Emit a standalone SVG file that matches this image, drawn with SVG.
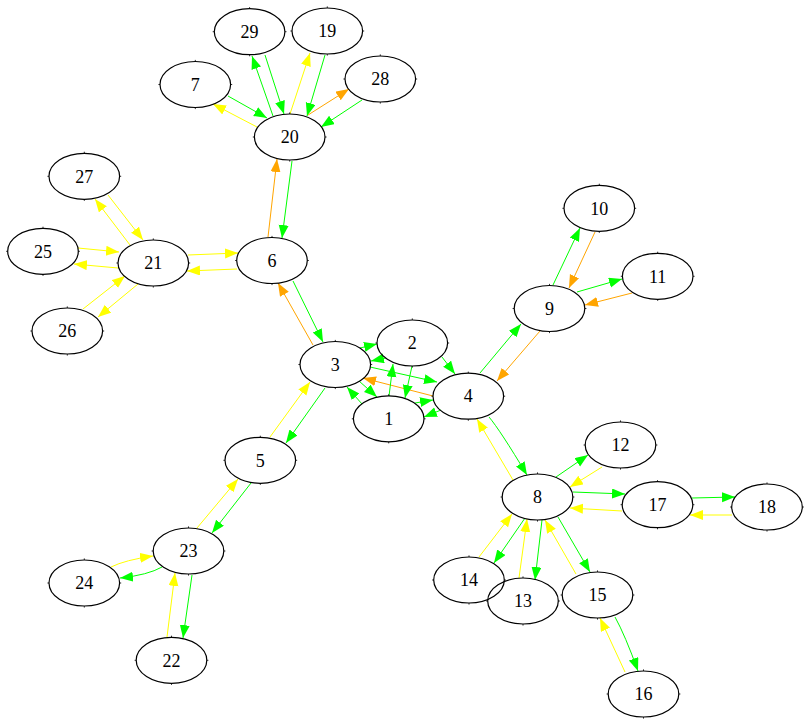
<svg xmlns="http://www.w3.org/2000/svg" xmlns:xlink="http://www.w3.org/1999/xlink" width="809" height="724" viewBox="0 0 809 724">
<style>
.e{fill:none;stroke-width:1}
.g{stroke:#00ff00;marker-end:url(#ag)}
.y{stroke:#ffff00;marker-end:url(#ay)}
.o{stroke:#ffa500;marker-end:url(#ao)}
.n text{font-family:"Liberation Serif","Times New Roman",serif;font-size:18px;text-anchor:middle;fill:#000}
</style>
<defs>
<marker id="ag" markerUnits="userSpaceOnUse" markerWidth="14" markerHeight="11" refX="13" refY="5" orient="auto"><path d="M0,0L13,5L0,10z" fill="#00ff00"/></marker>
<marker id="ay" markerUnits="userSpaceOnUse" markerWidth="14" markerHeight="11" refX="13" refY="5" orient="auto"><path d="M0,0L13,5L0,10z" fill="#ffff00"/></marker>
<marker id="ao" markerUnits="userSpaceOnUse" markerWidth="14" markerHeight="11" refX="13" refY="5" orient="auto"><path d="M0,0L13,5L0,10z" fill="#ffa500"/></marker>
<g id="shape" fill="none" stroke="#000"><ellipse cx="0" cy="0" rx="35.3" ry="23" stroke-width="1.2"/><path stroke-width="0.8" d="M0,-24.6V-23M0,23V24.6M-36.9,0H-35.3M35.3,0H36.9"/></g>
</defs>
<rect width="809" height="724" fill="#fff"/>
<g id="edges" class="e">
<path class="g" d="M273,116L252,56"/>
<path class="g" d="M265,55L284,114"/>
<path class="y" d="M290,114L310,53"/>
<path class="g" d="M325,55L307,116"/>
<path class="y" d="M257,127L213,104"/>
<path class="g" d="M228,96L267,118"/>
<path class="o" d="M308,115L349,89"/>
<path class="g" d="M362,100L321,127"/>
<path class="o" d="M268,237L277,159"/>
<path class="g" d="M292,161L282,238"/>
<path class="y" d="M188,255L238,253"/>
<path class="y" d="M237,269L187,271"/>
<path class="y" d="M130,245L95,199"/>
<path class="y" d="M108,195L143,240"/>
<path class="y" d="M78,248L119,252"/>
<path class="y" d="M118,268L74,264"/>
<path class="y" d="M83,309L125,276"/>
<path class="y" d="M138,284L98,317"/>
<path class="o" d="M313,345L278,283"/>
<path class="g" d="M293,281L323,342"/>
<path class="y" d="M270,437L310,382"/>
<path class="g" d="M325,388L286,443"/>
<path class="y" d="M197,528L238,479"/>
<path class="g" d="M251,483L212,533"/>
<path class="y" d="M111,567Q125,560 153,556"/>
<path class="g" d="M162,567Q148,575 120,578"/>
<path class="y" d="M167,637L175,573"/>
<path class="g" d="M192,575L183,638"/>
<path class="g" d="M360,348L377,344"/>
<path class="g" d="M386,358L371,361"/>
<path class="g" d="M370,367L437,382"/>
<path class="o" d="M433,396L363,378"/>
<path class="g" d="M442,357L455,374"/>
<path class="g" d="M389,396L393,364"/>
<path class="g" d="M412,366L405,398"/>
<path class="g" d="M359,381L377,397"/>
<path class="g" d="M362,404L347,387"/>
<path class="g" d="M415,403L433,400"/>
<path class="g" d="M441,410L424,417"/>
<path class="g" d="M480,373L521,324"/>
<path class="o" d="M540,331L497,381"/>
<path class="g" d="M553,285L580,228"/>
<path class="o" d="M595,232L569,288"/>
<path class="g" d="M577,292L622,279"/>
<path class="o" d="M632,293L585,305"/>
<path class="g" d="M489,417Q500,430 527,475"/>
<path class="y" d="M513,480L477,419"/>
<path class="g" d="M556,477L588,455"/>
<path class="y" d="M602,467L570,487"/>
<path class="g" d="M573,492L625,494"/>
<path class="y" d="M622,511L570,508"/>
<path class="g" d="M692,498L735,497"/>
<path class="y" d="M732,515L690,515"/>
<path class="g" d="M525,518L494,563"/>
<path class="y" d="M479,557L512,514"/>
<path class="g" d="M542,520L535,580"/>
<path class="y" d="M519,578L527,519"/>
<path class="g" d="M558,517L590,572"/>
<path class="y" d="M576,574L545,520"/>
<path class="g" d="M615,617Q625,635 638,671"/>
<path class="y" d="M625,672L600,618"/>
</g>
<g id="n1" class="n"><use xlink:href="#shape" x="388.7" y="418.8"/><text x="388.7" y="425">1</text></g>
<g id="n2" class="n"><use xlink:href="#shape" x="412.3" y="343"/><text x="412.3" y="349.2">2</text></g>
<g id="n3" class="n"><use xlink:href="#shape" x="335.3" y="364.5"/><text x="335.3" y="370.7">3</text></g>
<g id="n4" class="n"><use xlink:href="#shape" x="468.3" y="396.2"/><text x="468.3" y="402.4">4</text></g>
<g id="n5" class="n"><use xlink:href="#shape" x="260.3" y="460.3"/><text x="260.3" y="466.5">5</text></g>
<g id="n6" class="n"><use xlink:href="#shape" x="272" y="260.5"/><text x="272" y="266.7">6</text></g>
<g id="n7" class="n"><use xlink:href="#shape" x="195.3" y="84.5"/><text x="195.3" y="90.7">7</text></g>
<g id="n8" class="n"><use xlink:href="#shape" x="537.5" y="497"/><text x="537.5" y="503.2">8</text></g>
<g id="n9" class="n"><use xlink:href="#shape" x="549.5" y="308.5"/><text x="549.5" y="314.7">9</text></g>
<g id="n10" class="n"><use xlink:href="#shape" x="599.3" y="208.3"/><text x="599.3" y="214.5">10</text></g>
<g id="n11" class="n"><use xlink:href="#shape" x="657.7" y="276.3"/><text x="657.7" y="282.5">11</text></g>
<g id="n12" class="n"><use xlink:href="#shape" x="620.5" y="445"/><text x="620.5" y="451.2">12</text></g>
<g id="n14" class="n"><use xlink:href="#shape" x="469" y="580"/><text x="469" y="586.2">14</text></g>
<g id="n13" class="n"><use xlink:href="#shape" x="523" y="601"/><text x="523" y="607.2">13</text></g>
<g id="n15" class="n"><use xlink:href="#shape" x="597.5" y="595"/><text x="597.5" y="601.2">15</text></g>
<g id="n16" class="n"><use xlink:href="#shape" x="643.5" y="694"/><text x="643.5" y="700.2">16</text></g>
<g id="n17" class="n"><use xlink:href="#shape" x="657.5" y="504.7"/><text x="657.5" y="510.9">17</text></g>
<g id="n18" class="n"><use xlink:href="#shape" x="767" y="507"/><text x="767" y="513.2">18</text></g>
<g id="n19" class="n"><use xlink:href="#shape" x="327.3" y="31"/><text x="327.3" y="37.2">19</text></g>
<g id="n20" class="n"><use xlink:href="#shape" x="289.7" y="137"/><text x="289.7" y="143.2">20</text></g>
<g id="n21" class="n"><use xlink:href="#shape" x="153.3" y="263"/><text x="153.3" y="269.2">21</text></g>
<g id="n22" class="n"><use xlink:href="#shape" x="171.5" y="660.3"/><text x="171.5" y="666.5">22</text></g>
<g id="n23" class="n"><use xlink:href="#shape" x="188.5" y="551"/><text x="188.5" y="557.2">23</text></g>
<g id="n24" class="n"><use xlink:href="#shape" x="84.3" y="583"/><text x="84.3" y="589.2">24</text></g>
<g id="n25" class="n"><use xlink:href="#shape" x="43" y="251.3"/><text x="43" y="257.5">25</text></g>
<g id="n26" class="n"><use xlink:href="#shape" x="67.3" y="331"/><text x="67.3" y="337.2">26</text></g>
<g id="n27" class="n"><use xlink:href="#shape" x="84.3" y="176.3"/><text x="84.3" y="182.5">27</text></g>
<g id="n28" class="n"><use xlink:href="#shape" x="380.3" y="79"/><text x="380.3" y="85.2">28</text></g>
<g id="n29" class="n"><use xlink:href="#shape" x="249.6" y="31.7"/><text x="249.6" y="37.9">29</text></g>
</svg>
